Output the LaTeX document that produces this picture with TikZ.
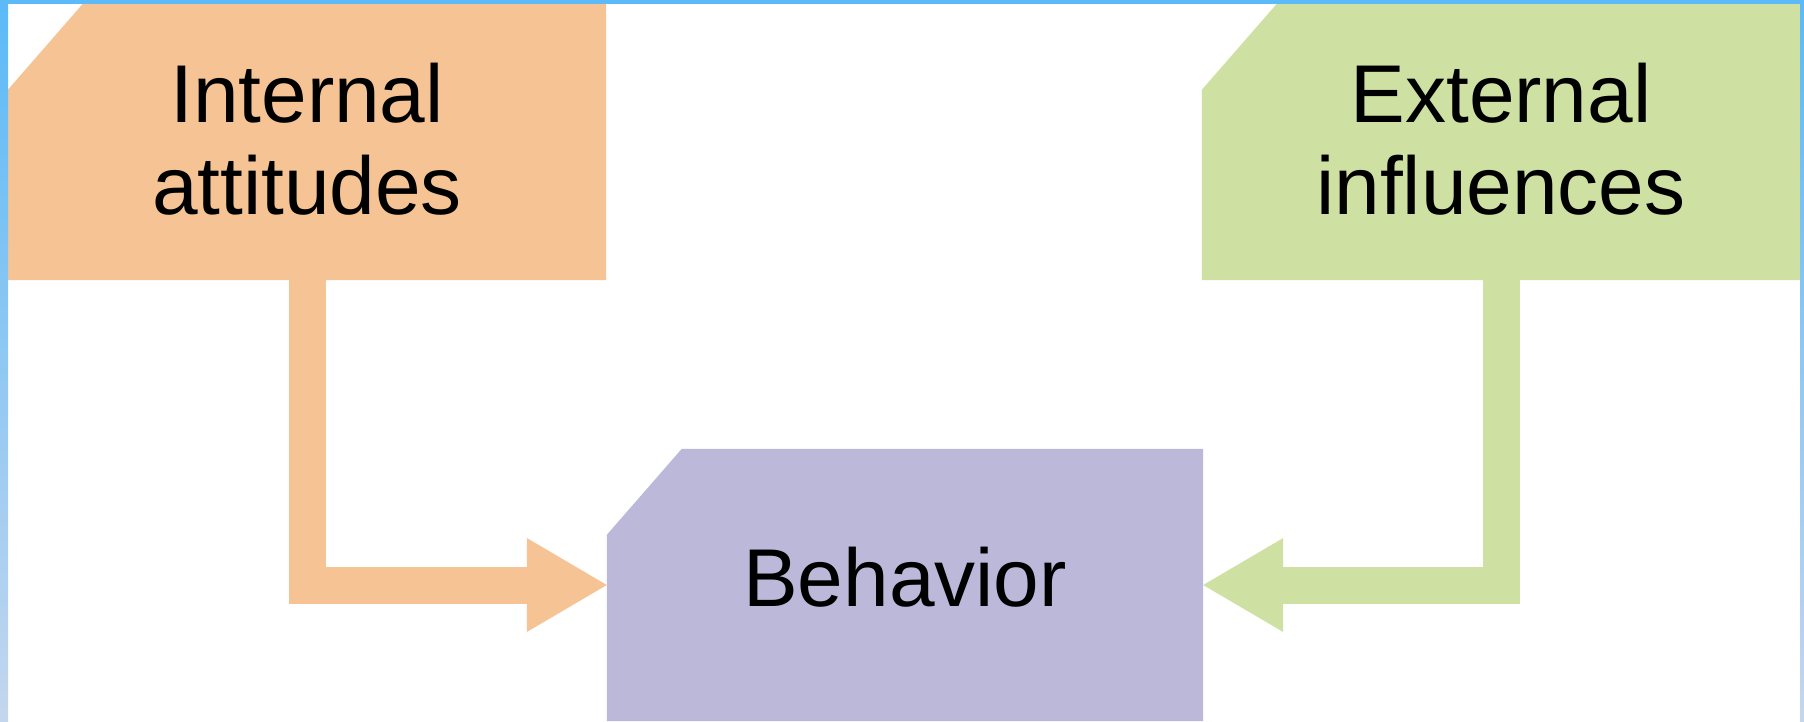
\documentclass[tikz,border=0pt]{standalone}
\usepackage{fontspec}
\setmainfont{Liberation Sans}
\usetikzlibrary{arrows.meta,backgrounds}

\definecolor{frametop}{HTML}{5BBAF7}
\definecolor{framebot}{HTML}{C4D6EE}
\definecolor{attorange}{HTML}{F6C494}
\definecolor{inflgreen}{HTML}{CEE1A2}
\definecolor{behpurple}{HTML}{BBB8DA}

\tikzset{
  box/.style={rectangle, inner sep=0pt, minimum width=598pt, minimum height=276pt,
    align=center, font=\fontsize{82}{92}\selectfont},
  flow/.style={line width=37pt, -{Triangle[length=80pt, width=94pt, line width=0pt]}}
}

% fill a box with its top left corner cut off
\newcommand{\cutbox}[2]{%
  \fill[#2] ([xshift=75pt]#1.north west) -- (#1.north east) -- (#1.south east)
    -- (#1.south west) -- ([yshift=-86pt]#1.north west) -- cycle;}

\begin{document}
\begin{tikzpicture}[x=1pt, y=-1pt]
\useasboundingbox (0,0) rectangle (1804,721);

% the three boxes
\node[box, text depth=6pt] (att) at (307,142) {Internal\\attitudes};
\node[box, text depth=6pt] (infl) at (1501,142) {External\\influences};
\node[box, minimum width=596pt, minimum height=272pt, text depth=17pt] (beh) at (905,585) {Behavior};

% the two arrows into the behavior box
\draw[flow, attorange] (att.south) |- (beh.west);
\draw[flow, inflgreen] (infl.south) |- (beh.east);

% box fills and the frame, behind everything
\begin{scope}[on background layer]
\fill[white] (0,0) rectangle (1804,721);
\cutbox{att}{attorange}
\cutbox{infl}{inflgreen}
\cutbox{beh}{behpurple}
\fill[frametop] (0,0) rectangle (1804,4);
\shade[top color=frametop, bottom color=framebot] (0,0) rectangle (8,721);
\shade[top color=frametop, bottom color=framebot] (1800,0) rectangle (1804,721);
\end{scope}
\end{tikzpicture}
\end{document}
